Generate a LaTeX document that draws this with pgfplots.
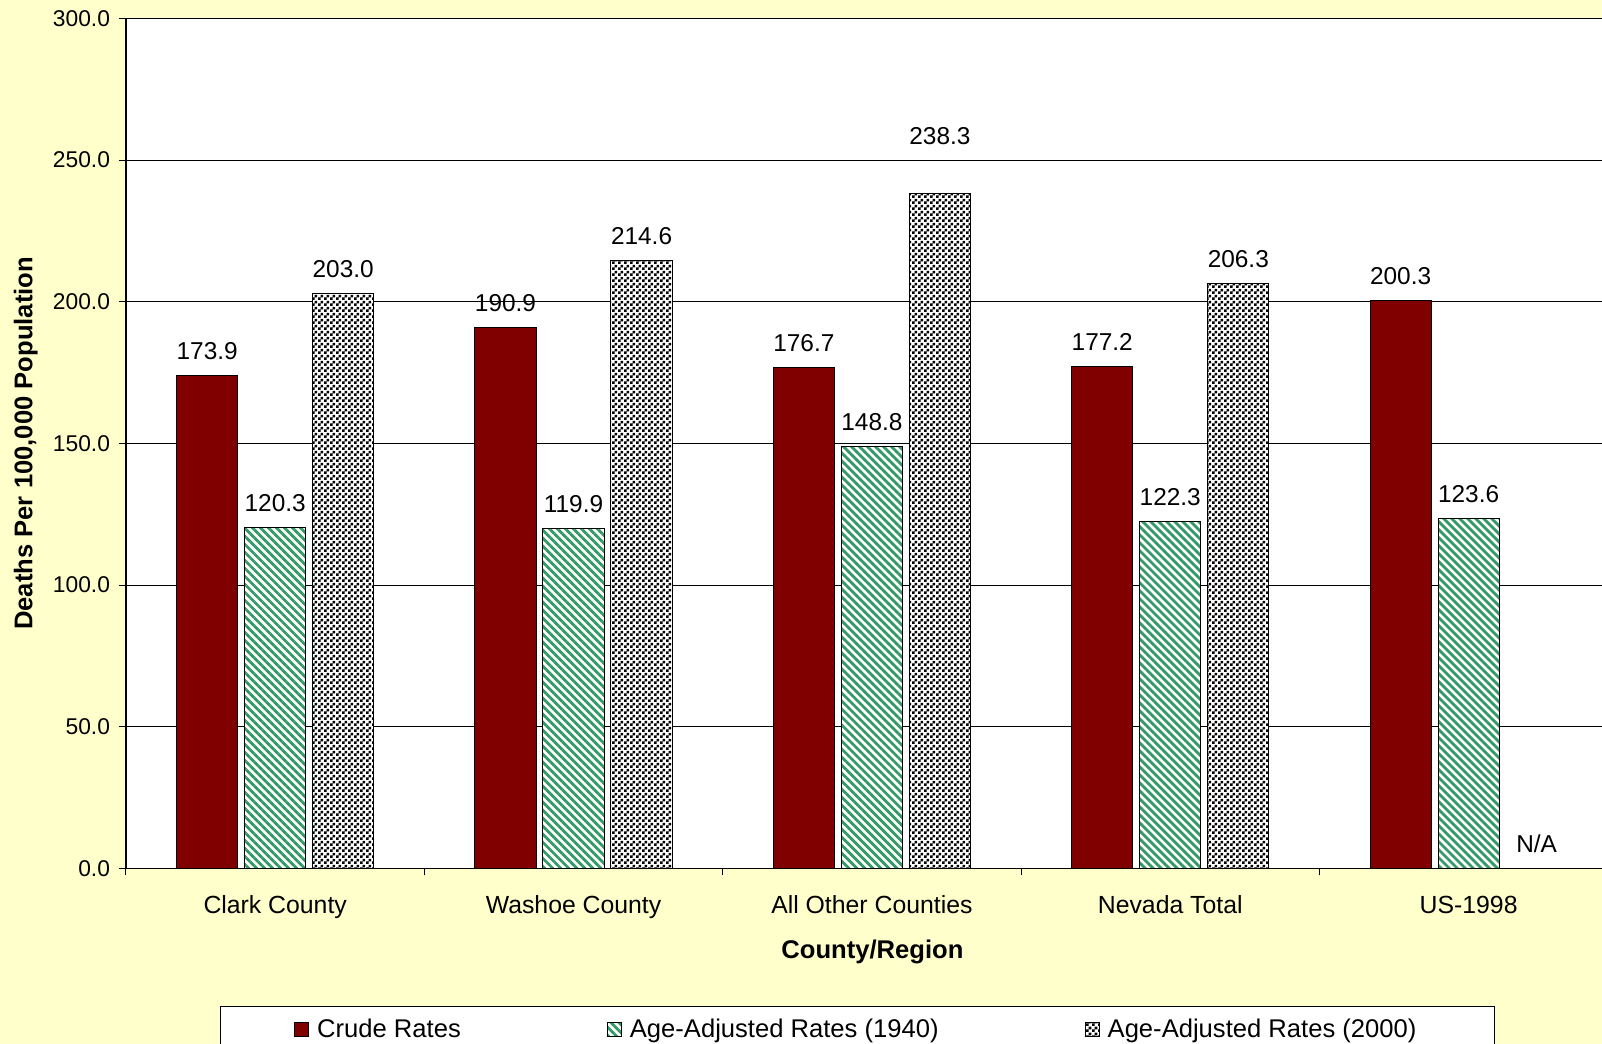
\documentclass[border=0pt]{standalone}
\usepackage{fontspec}
\setmainfont{Liberation Sans}
\usepackage{pgfplots}
\pgfplotsset{compat=1.18}
\usetikzlibrary{patterns.meta}
\definecolor{bgyellow}{HTML}{FFFFCC}
\definecolor{crude}{HTML}{800000}
\definecolor{seagreen}{HTML}{339966}
\pgfdeclarepattern{
  name=finecheck,
  type=uncolored,
  bottom left={\pgfpoint{0pt}{0pt}},
  top right={\pgfpoint{3pt}{3pt}},
  tile size={\pgfpoint{3pt}{3pt}},
  code={
    \pgfpathrectangle{\pgfpointorigin}{\pgfpoint{1.5pt}{1.5pt}}
    \pgfpathrectangle{\pgfpoint{1.5pt}{1.5pt}}{\pgfpoint{1.5pt}{1.5pt}}
    \pgfusepath{fill}
  }
}
\begin{document}
\begin{tikzpicture}
\useasboundingbox (-63pt,-87.75pt) rectangle (738pt,434.2pt);
\fill[bgyellow] (-63pt,-87.75pt) rectangle (738pt,434.2pt);
\begin{axis}[
  at={(0pt,0pt)}, anchor=south west,
  scale only axis, width=738pt, height=425pt,
  xmin=-0.5, xmax=4.447, ymin=0, ymax=300,
  ybar, bar width=0.205,
  axis background/.style={fill=white},
  axis x line*=bottom, axis y line*=left,
  axis line style={-, black, line width=0.6pt},
  ymajorgrids, grid style={black, line width=0.5pt},
  ytick={0,50,...,300},
  /pgf/number format/fixed, /pgf/number format/fixed zerofill,
  /pgf/number format/precision=1, /pgf/number format/assume math mode=true,
  yticklabel style={font=\fontsize{11.4}{13}\selectfont, anchor=east, inner sep=0pt, xshift=-4.3pt},
  xtick={0,1,2,3,4},
  xticklabels={Clark County, Washoe County, All Other Counties, Nevada Total, US-1998},
  major x tick style={draw=none},
  minor xtick={-0.5,0.5,1.5,2.5,3.5},
  tick align=outside, major tick length=3.5pt, minor tick length=3.5pt,
  tick style={black, line width=0.5pt},
  xticklabel style={font=\fontsize{12.4}{14}\selectfont, anchor=north, inner sep=0pt, yshift=-10pt},
  xlabel={County/Region},
  xlabel style={font=\bfseries\fontsize{12.8}{15}\selectfont, at={(axis description cs:0.5057,-0.0984)}, anchor=center},
  ylabel={Deaths Per 100,000 Population},
  ylabel style={font=\bfseries\fontsize{12.8}{15}\selectfont, at={(axis description cs:-0.0679,0.5)}, anchor=center},
  nodes near coords, point meta=explicit symbolic,
  every node near coord/.append style={font=\fontsize{12.2}{14}\selectfont, anchor=south, inner sep=0pt, yshift=7.7pt},
  legend image code/.code={\draw[#1] (0pt,-3.5pt) rectangle (7pt,3.5pt);},
  legend style={at={(0.0634,-0.1619)}, anchor=north west, draw=black, line width=0.6pt, fill=white,
    font=\fontsize{12.8}{15}\selectfont, inner xsep=37pt, inner ysep=4pt,
    /tikz/every odd column/.append style={column sep=2pt},
    /tikz/every even column/.append style={column sep=71pt}},
  legend columns=3,
]
\addplot[bar shift=0pt, fill=crude, draw=black, line width=0.5pt] coordinates {
  (-0.228,173.9) [173.9]
  (0.772,190.9) [190.9]
  (1.772,176.7) [176.7]
  (2.772,177.2) [177.2]
  (3.772,200.3) [200.3]
};
\addplot[bar shift=0pt, fill=white, draw=black, line width=0.5pt,
  postaction={pattern={Lines[angle=-45,distance=2.83pt,line width=1.4pt]}, pattern color=seagreen}] coordinates {
  (0,120.3) [120.3]
  (1,119.9) [119.9]
  (2,148.8) [148.8]
  (3,122.3) [122.3]
  (4,123.6) [123.6]
};
\addplot[bar shift=0pt, fill=white, draw=black, line width=0.5pt,
  postaction={pattern=finecheck, pattern color=black}] coordinates {
  (0.228,203.0) [203.0]
  (1.228,214.6) [214.6]
  (2.228,238.3) [{}]
  (3.228,206.3) [206.3]
  (4.228,0) [N/A]
};
\addplot[bar shift=0pt, draw=none, fill=none, forget plot] coordinates {
  (2.228,249.9) [238.3]
};
\legend{Crude Rates, Age-Adjusted Rates (1940), Age-Adjusted Rates (2000)}
\end{axis}
\end{tikzpicture}
\end{document}
